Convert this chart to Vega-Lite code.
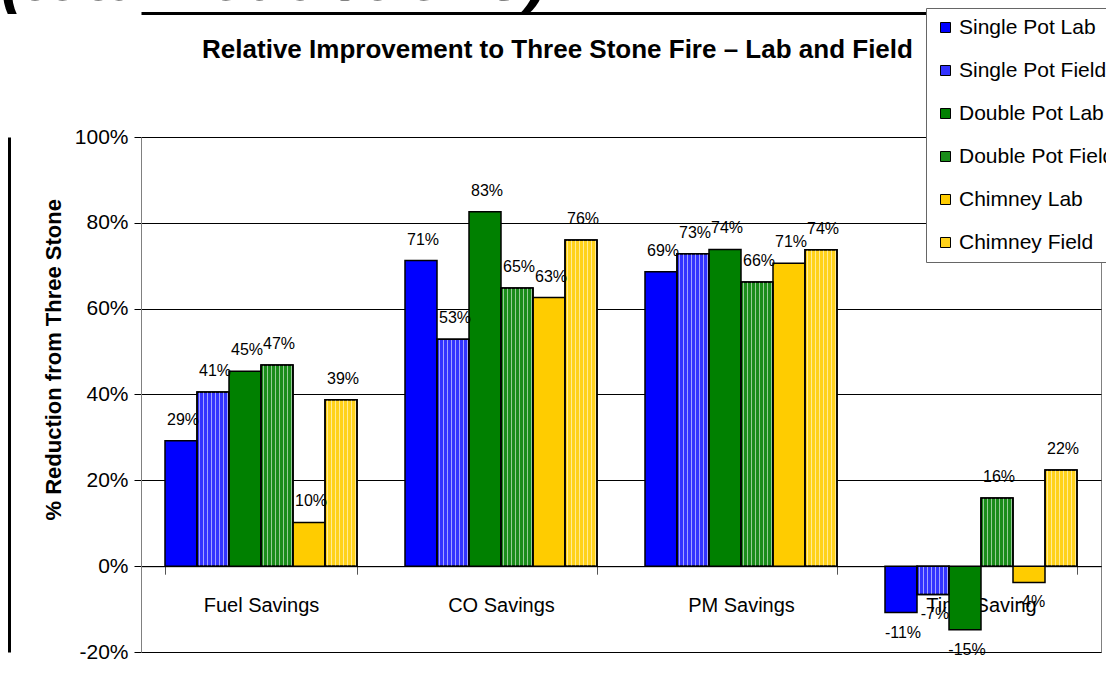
{
  "$schema": "https://vega.github.io/schema/vega-lite/v6.json",
  "autosize": {"type": "none"},
  "padding": {"left": 141, "top": 137, "right": 5, "bottom": 39},
  "width": 960,
  "height": 515,
  "background": "white",
  "data": {
    "values": [
      {"category": "Fuel Savings", "series": "Single Pot Lab", "value": 0.292},
      {"category": "Fuel Savings", "series": "Single Pot Field", "value": 0.406},
      {"category": "Fuel Savings", "series": "Double Pot Lab", "value": 0.454},
      {"category": "Fuel Savings", "series": "Double Pot Field", "value": 0.469},
      {"category": "Fuel Savings", "series": "Chimney Lab", "value": 0.102},
      {"category": "Fuel Savings", "series": "Chimney Field", "value": 0.388},
      {"category": "CO Savings", "series": "Single Pot Lab", "value": 0.712},
      {"category": "CO Savings", "series": "Single Pot Field", "value": 0.529},
      {"category": "CO Savings", "series": "Double Pot Lab", "value": 0.826},
      {"category": "CO Savings", "series": "Double Pot Field", "value": 0.648},
      {"category": "CO Savings", "series": "Chimney Lab", "value": 0.626},
      {"category": "CO Savings", "series": "Chimney Field", "value": 0.76},
      {"category": "PM Savings", "series": "Single Pot Lab", "value": 0.686},
      {"category": "PM Savings", "series": "Single Pot Field", "value": 0.728},
      {"category": "PM Savings", "series": "Double Pot Lab", "value": 0.738},
      {"category": "PM Savings", "series": "Double Pot Field", "value": 0.662},
      {"category": "PM Savings", "series": "Chimney Lab", "value": 0.706},
      {"category": "PM Savings", "series": "Chimney Field", "value": 0.737},
      {"category": "Time Saving", "series": "Single Pot Lab", "value": -0.108},
      {"category": "Time Saving", "series": "Single Pot Field", "value": -0.066},
      {"category": "Time Saving", "series": "Double Pot Lab", "value": -0.148},
      {"category": "Time Saving", "series": "Double Pot Field", "value": 0.159},
      {"category": "Time Saving", "series": "Chimney Lab", "value": -0.038},
      {"category": "Time Saving", "series": "Chimney Field", "value": 0.224}
    ]
  },
  "layer": [
    {
      "mark": {"type": "bar", "stroke": "black", "strokeWidth": 1.5},
      "encoding": {
        "x": {
          "field": "category", "type": "nominal",
          "scale": {"domain": ["Fuel Savings", "CO Savings", "PM Savings", "Time Saving"], "paddingInner": 0.2, "paddingOuter": 0.1},
          "axis": {
            "orient": "bottom", "offset": -85.8, "title": null, "labelAngle": 0,
            "labelFontSize": 20, "labelPadding": 21, "labelBaseline": "top",
            "tickBand": "extent", "tickSize": 8, "tickColor": "#555",
            "domainColor": "black", "domainWidth": 1, "grid": false
          }
        },
        "xOffset": {
          "field": "series", "type": "nominal",
          "scale": {"domain": ["Single Pot Lab", "Single Pot Field", "Double Pot Lab", "Double Pot Field", "Chimney Lab", "Chimney Field"]}
        },
        "y": {
          "field": "value", "type": "quantitative", "stack": null,
          "scale": {"domain": [-0.2, 1], "nice": false, "zero": false},
          "axis": {
            "title": "% Reduction from Three Stone",
            "titleFontSize": 22, "titleFontWeight": "bold", "titleAngle": -90,
            "titleX": -81, "titleY": 383, "titleAlign": "left", "titleBaseline": "alphabetic",
            "format": ".0%", "values": [-0.2, 0, 0.2, 0.4, 0.6, 0.8, 1],
            "labelFontSize": 21, "labelPadding": 6, "tickSize": 7, "tickColor": "black",
            "domainColor": "#808080", "grid": true, "gridColor": "black", "gridWidth": 1
          }
        },
        "color": {
          "field": "series", "type": "nominal",
          "scale": {
            "domain": ["Single Pot Lab", "Single Pot Field", "Double Pot Lab", "Double Pot Field", "Chimney Lab", "Chimney Field"],
            "range": ["#0000FF", "#3333FF", "#008000", "#1A8C1A", "#FFCC00", "#FFD21A"]
          },
          "legend": {
            "orient": "none", "legendX": 785, "legendY": -129, "title": null,
            "fillColor": "white", "strokeColor": "#666", "padding": 9,
            "symbolType": "square", "symbolSize": 100, "symbolStrokeColor": "black", "symbolStrokeWidth": 1,
            "labelFontSize": 21, "labelOffset": 3, "rowPadding": 21, "labelLimit": 400, "labelColor": "black"
          }
        }
      }
    },
    {
      "transform": [{"filter": "indexof(datum.series, 'Field') >= 0"}],
      "mark": {
        "type": "bar", "stroke": "black", "strokeWidth": 1.5,
        "fill": {
          "gradient": "linear", "x1": 0, "y1": 0, "x2": 1, "y2": 0,
          "stops": [
            {"offset": 0, "color": "rgba(255,255,255,0)"},
            {"offset": 0.05, "color": "rgba(255,255,255,0)"}, {"offset": 0.05, "color": "rgba(255,255,255,0.55)"},
            {"offset": 0.095, "color": "rgba(255,255,255,0.55)"}, {"offset": 0.095, "color": "rgba(255,255,255,0)"},
            {"offset": 0.175, "color": "rgba(255,255,255,0)"}, {"offset": 0.175, "color": "rgba(255,255,255,0.55)"},
            {"offset": 0.22, "color": "rgba(255,255,255,0.55)"}, {"offset": 0.22, "color": "rgba(255,255,255,0)"},
            {"offset": 0.3, "color": "rgba(255,255,255,0)"}, {"offset": 0.3, "color": "rgba(255,255,255,0.55)"},
            {"offset": 0.345, "color": "rgba(255,255,255,0.55)"}, {"offset": 0.345, "color": "rgba(255,255,255,0)"},
            {"offset": 0.425, "color": "rgba(255,255,255,0)"}, {"offset": 0.425, "color": "rgba(255,255,255,0.55)"},
            {"offset": 0.47, "color": "rgba(255,255,255,0.55)"}, {"offset": 0.47, "color": "rgba(255,255,255,0)"},
            {"offset": 0.55, "color": "rgba(255,255,255,0)"}, {"offset": 0.55, "color": "rgba(255,255,255,0.55)"},
            {"offset": 0.595, "color": "rgba(255,255,255,0.55)"}, {"offset": 0.595, "color": "rgba(255,255,255,0)"},
            {"offset": 0.675, "color": "rgba(255,255,255,0)"}, {"offset": 0.675, "color": "rgba(255,255,255,0.55)"},
            {"offset": 0.72, "color": "rgba(255,255,255,0.55)"}, {"offset": 0.72, "color": "rgba(255,255,255,0)"},
            {"offset": 0.8, "color": "rgba(255,255,255,0)"}, {"offset": 0.8, "color": "rgba(255,255,255,0.55)"},
            {"offset": 0.845, "color": "rgba(255,255,255,0.55)"}, {"offset": 0.845, "color": "rgba(255,255,255,0)"},
            {"offset": 0.925, "color": "rgba(255,255,255,0)"}, {"offset": 0.925, "color": "rgba(255,255,255,0.55)"},
            {"offset": 0.97, "color": "rgba(255,255,255,0.55)"}, {"offset": 0.97, "color": "rgba(255,255,255,0)"},
            {"offset": 1, "color": "rgba(255,255,255,0)"}
          ]
        }
      },
      "encoding": {
        "x": {"field": "category", "type": "nominal", "scale": {"domain": ["Fuel Savings", "CO Savings", "PM Savings", "Time Saving"], "paddingInner": 0.2, "paddingOuter": 0.1}, "axis": null},
        "xOffset": {"field": "series", "type": "nominal", "scale": {"domain": ["Single Pot Lab", "Single Pot Field", "Double Pot Lab", "Double Pot Field", "Chimney Lab", "Chimney Field"]}},
        "y": {"field": "value", "type": "quantitative", "stack": null, "scale": {"domain": [-0.2, 1], "nice": false, "zero": false}, "axis": null}
      }
    },
    {
      "transform": [{"filter": "datum.value >= 0"}],
      "mark": {"type": "text", "dy": -16, "dx": 2, "baseline": "alphabetic", "fontSize": 16, "color": "black"},
      "encoding": {
        "x": {
          "field": "category", "type": "nominal",
          "scale": {"domain": ["Fuel Savings", "CO Savings", "PM Savings", "Time Saving"], "paddingInner": 0.2, "paddingOuter": 0.1},
          "axis": {
            "orient": "top", "offset": 124, "labels": false, "ticks": false, "grid": false,
            "domain": true, "domainColor": "black", "domainWidth": 3,
            "title": "(total reductions)", "titleFontSize": 67, "titleFontStyle": "italic", "titleFontWeight": "bold",
            "titleX": -141, "titleY": -14, "titleAlign": "left", "titleBaseline": "alphabetic", "titleAngle": 0
          }
        },
        "xOffset": {"field": "series", "type": "nominal", "scale": {"domain": ["Single Pot Lab", "Single Pot Field", "Double Pot Lab", "Double Pot Field", "Chimney Lab", "Chimney Field"]}},
        "y": {
          "field": "value", "type": "quantitative", "stack": null,
          "scale": {"domain": [-0.2, 1], "nice": false, "zero": false},
          "axis": {
            "orient": "left", "offset": 132, "labels": false, "ticks": false, "grid": false,
            "domainColor": "black", "domainWidth": 3,
            "title": "Relative Improvement to Three Stone Fire – Lab and Field",
            "titleFontSize": 26, "titleFontWeight": "bold", "titleAngle": 0,
            "titleX": 548, "titleY": -80, "titleAlign": "center", "titleBaseline": "alphabetic"
          }
        },
        "text": {"field": "value", "type": "quantitative", "format": ".0%"}
      }
    },
    {
      "transform": [{"filter": "datum.value < 0"}],
      "mark": {"type": "text", "dy": 25, "dx": 2, "baseline": "alphabetic", "fontSize": 16, "color": "black"},
      "encoding": {
        "x": {"field": "category", "type": "nominal", "scale": {"domain": ["Fuel Savings", "CO Savings", "PM Savings", "Time Saving"], "paddingInner": 0.2, "paddingOuter": 0.1}, "axis": null},
        "xOffset": {"field": "series", "type": "nominal", "scale": {"domain": ["Single Pot Lab", "Single Pot Field", "Double Pot Lab", "Double Pot Field", "Chimney Lab", "Chimney Field"]}},
        "y": {"field": "value", "type": "quantitative", "stack": null, "scale": {"domain": [-0.2, 1], "nice": false, "zero": false}, "axis": null},
        "text": {"field": "value", "type": "quantitative", "format": ".0%"}
      }
    }
  ],
  "resolve": {"axis": {"x": "independent", "y": "independent"}},
  "config": {
    "font": "Liberation Sans",
    "locale": {"number": {"decimal": ".", "thousands": ",", "grouping": [3], "currency": ["$", ""], "minus": "-"}},
    "view": {"stroke": "#808080", "strokeWidth": 1},
    "axis": {"labelColor": "black", "titleColor": "black", "labelFont": "Liberation Sans", "titleFont": "Liberation Sans"},
    "legend": {"labelFont": "Liberation Sans"}
  }
}
